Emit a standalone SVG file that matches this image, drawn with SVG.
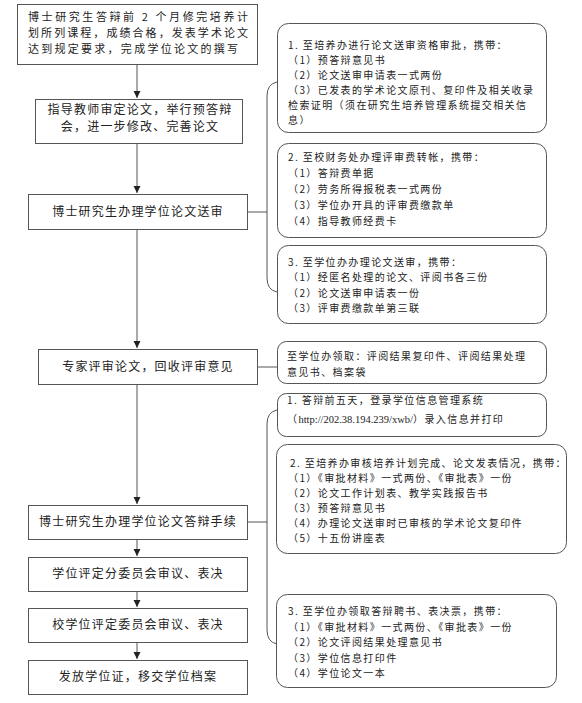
<svg xmlns="http://www.w3.org/2000/svg" width="582" height="703" viewBox="0 0 582 703">
<style>
.box{fill:#fff;stroke:#555;stroke-width:1}
.rbox{fill:#fff;stroke:#555;stroke-width:1}
.t{font-family:"Noto Sans CJK SC","Liberation Sans",sans-serif;font-size:12px;fill:#222;letter-spacing:1.2px}
.t1{font-family:"Noto Sans CJK SC","Liberation Sans",sans-serif;font-size:11px;fill:#222}
.c{text-anchor:middle}
.s{font-family:"Noto Sans CJK SC","Liberation Sans",sans-serif;font-size:10px;fill:#222;letter-spacing:1.4px}
.u{font-family:"Liberation Serif",serif;font-size:10.5px;letter-spacing:0}
.ln{fill:none;stroke:#555;stroke-width:1}
</style>
<defs>
<marker id="ah" markerWidth="8" markerHeight="8" refX="7" refY="4" orient="auto" markerUnits="userSpaceOnUse">
<path d="M0,0.5 L7,4 L0,7.5 Z" fill="#222"/>
</marker>
</defs>
<rect width="582" height="703" fill="#fff"/>
<g id="connectors">
<line class="ln" x1="137" y1="64" x2="137" y2="98" marker-end="url(#ah)"/>
<line class="ln" x1="137" y1="143" x2="137" y2="193" marker-end="url(#ah)"/>
<line class="ln" x1="137" y1="229" x2="137" y2="348" marker-end="url(#ah)"/>
<line class="ln" x1="137" y1="384" x2="137" y2="504" marker-end="url(#ah)"/>
<line class="ln" x1="137" y1="539" x2="137" y2="556" marker-end="url(#ah)"/>
<line class="ln" x1="137" y1="591" x2="137" y2="607" marker-end="url(#ah)"/>
<line class="ln" x1="137" y1="642" x2="137" y2="659" marker-end="url(#ah)"/>
<line class="ln" x1="247" y1="212" x2="267" y2="212"/>
<line class="ln" x1="257" y1="367" x2="277" y2="367"/>
<line class="ln" x1="247" y1="522" x2="267" y2="522"/>
<path class="ln" d="M277,82 Q267,84 267,96 L267,278 Q267,290 277,292"/>
<path class="ln" d="M277,410 Q267,412 267,424 L267,630 Q267,642 277,644"/>
</g>
<g id="n1">
<rect class="box" x="17.5" y="4.5" width="240" height="60"/>
<text class="t1" x="28" y="20.5" textLength="220" lengthAdjust="spacing">博士研究生答辩前 2 个月修完培养计</text>
<text class="t1" x="28" y="36.5" textLength="220" lengthAdjust="spacing">划所列课程，成绩合格，发表学术论文</text>
<text class="t1" x="28" y="52.5" textLength="210" lengthAdjust="spacing">达到规定要求，完成学位论文的撰写</text>
</g>
<g id="n2">
<rect class="box" x="35.5" y="99.5" width="207" height="44"/>
<text class="t c" x="140" y="114">指导教师审定论文，举行预答辩</text>
<text class="t c" x="140" y="131">会，进一步修改、完善论文</text>
</g>
<g id="n3">
<rect class="box" x="28.5" y="194.5" width="219" height="35"/>
<text class="t c" x="138" y="216">博士研究生办理学位论文送审</text>
</g>
<g id="n4">
<rect class="box" x="38.5" y="349.5" width="219" height="35"/>
<text class="t c" x="148" y="371">专家评审论文，回收评审意见</text>
</g>
<g id="n5">
<rect class="box" x="28.5" y="505.5" width="219" height="34"/>
<text class="t c" x="138" y="526">博士研究生办理学位论文答辩手续</text>
</g>
<g id="n6">
<rect class="box" x="28.5" y="557.5" width="219" height="34"/>
<text class="t c" x="138" y="578">学位评定分委员会审议、表决</text>
</g>
<g id="n7">
<rect class="box" x="28.5" y="608.5" width="219" height="34"/>
<text class="t c" x="138" y="629">校学位评定委员会审议、表决</text>
</g>
<g id="n8">
<rect class="box" x="28.5" y="660.5" width="219" height="34"/>
<text class="t c" x="138" y="681">发放学位证，移交学位档案</text>
</g>
<g id="r1">
<rect class="rbox" x="277.5" y="23.5" width="269" height="109" rx="11"/>
<text class="s" x="288" y="48.5">1. 至培养办进行论文送审资格审批，携带：</text>
<text class="s" x="288" y="63.5">（1）预答辩意见书</text>
<text class="s" x="288" y="78.5">（2）论文送审申请表一式两份</text>
<text class="s" x="288" y="93.5">（3）已发表的学术论文原刊、复印件及相关收录</text>
<text class="s" x="288" y="108.5">检索证明（须在研究生培养管理系统提交相关信</text>
<text class="s" x="288" y="123.5">息）</text>
</g>
<g id="r2">
<rect class="rbox" x="277.5" y="143.5" width="269" height="94" rx="11"/>
<text class="s" x="288" y="161">2. 至校财务处办理评审费转帐，携带：</text>
<text class="s" x="288" y="177">（1）答辩费单据</text>
<text class="s" x="288" y="193">（2）劳务所得报税表一式两份</text>
<text class="s" x="288" y="209">（3）学位办开具的评审费缴款单</text>
<text class="s" x="288" y="225">（4）指导教师经费卡</text>
</g>
<g id="r3">
<rect class="rbox" x="277.5" y="245.5" width="269" height="78" rx="11"/>
<text class="s" x="288" y="266">3. 至学位办办理论文送审，携带：</text>
<text class="s" x="288" y="281">（1）经匿名处理的论文、评阅书各三份</text>
<text class="s" x="288" y="296.5">（2）论文送审申请表一份</text>
<text class="s" x="288" y="312">（3）评审费缴款单第三联</text>
</g>
<g id="r4">
<rect class="rbox" x="277.5" y="341.5" width="269" height="42" rx="9"/>
<text class="s" x="287" y="360">至学位办领取：评阅结果复印件、评阅结果处理</text>
<text class="s" x="287" y="376">意见书、档案袋</text>
</g>
<g id="r5">
<rect class="rbox" x="277.5" y="393.5" width="269" height="43" rx="9"/>
<text class="s" x="287" y="404">1. 答辩前五天，登录学位信息管理系统</text>
<text class="s" x="287" y="423">（<tspan class="u">http://202.38.194.239/xwb/</tspan>）录入信息并打印</text>
</g>
<g id="r6">
<rect class="rbox" x="276.5" y="444.5" width="290" height="109" rx="11"/>
<text class="s" x="290" y="466.5">2. 至培养办审核培养计划完成、论文发表情况，携带：</text>
<text class="s" x="288" y="481.5">（1）《审批材料》一式两份、《审批表》一份</text>
<text class="s" x="288" y="496.5">（2）论文工作计划表、教学实践报告书</text>
<text class="s" x="288" y="511.5">（3）预答辩意见书</text>
<text class="s" x="288" y="527">（4）办理论文送审时已审核的学术论文复印件</text>
<text class="s" x="288" y="542">（5）十五份讲座表</text>
</g>
<g id="r7">
<rect class="rbox" x="276.5" y="594.5" width="280" height="93" rx="11"/>
<text class="s" x="288" y="615">3. 至学位办领取答辩聘书、表决票，携带：</text>
<text class="s" x="288" y="630.5">（1）《审批材料》一式两份、《审批表》一份</text>
<text class="s" x="288" y="646">（2）论文评阅结果处理意见书</text>
<text class="s" x="288" y="661.5">（3）学位信息打印件</text>
<text class="s" x="288" y="677">（4）学位论文一本</text>
</g>
</svg>
